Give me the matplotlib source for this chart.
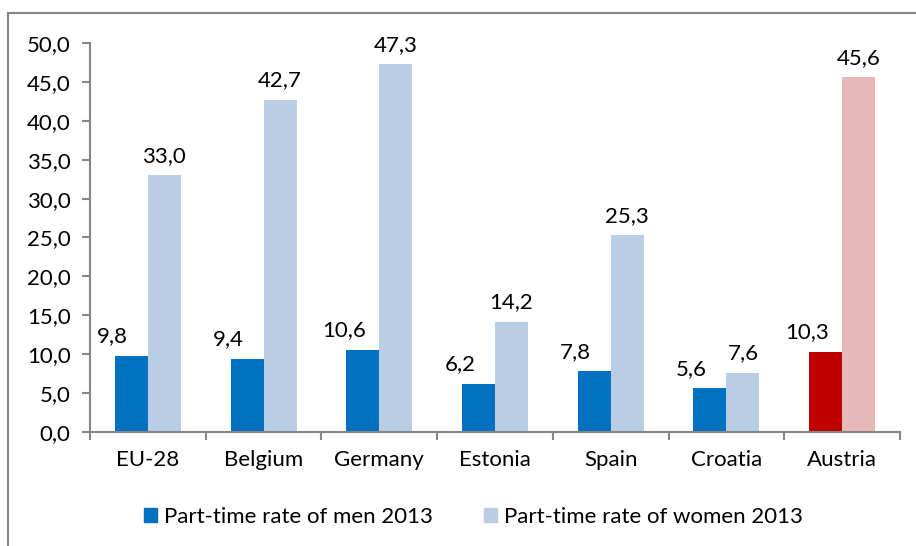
import numpy as np
import matplotlib.pyplot as plt
from matplotlib.lines import Line2D

countries = ['EU-28', 'Belgium', 'Germany', 'Estonia', 'Spain', 'Croatia', 'Austria']
men = [9.8, 9.4, 10.6, 6.2, 7.8, 5.6, 10.3]
women = [33.0, 42.7, 47.3, 14.2, 25.3, 7.6, 45.6]
men_colors = ['#0070C0'] * 6 + ['#C00000']
women_colors = ['#B9CDE5'] * 6 + ['#E6B9B8']
yticks = [0, 5, 10, 15, 20, 25, 30, 35, 40, 45, 50]

plt.rcParams['font.family'] = ['Lato', 'DejaVu Sans']
grey = '#868686'
fs = 16

fig = plt.figure(figsize=(9.16, 5.46), dpi=100)
ax = fig.add_axes([90 / 916, 1 - 432 / 546, 810 / 916, 389 / 546])

x = np.arange(len(countries))
w = 0.285
ax.bar(x - w / 2, men, w, color=men_colors)
ax.bar(x + w / 2, women, w, color=women_colors)

for xi, m, f in zip(x, men, women):
    ax.text(xi - w / 2 - 0.16, m + 1.2, f'{m:.1f}'.replace('.', ','),
            ha='center', va='bottom', fontsize=fs)
    ax.text(xi + w / 2, f + 1.2, f'{f:.1f}'.replace('.', ','),
            ha='center', va='bottom', fontsize=fs)

ax.set_xlim(-0.5, len(countries) - 0.5)
ax.set_ylim(0, 50)
ax.set_yticks(yticks)
ax.set_yticklabels([f'{v:.1f}'.replace('.', ',') for v in yticks], fontsize=fs)
ax.set_xticks(x)
ax.set_xticklabels(countries, fontsize=fs)
ax.tick_params(axis='x', length=0, pad=13)
ax.set_xticks(np.arange(-0.5, len(countries)), minor=True)
ax.tick_params(axis='x', which='minor', length=6, width=1.5, color=grey)
ax.tick_params(axis='y', length=6, width=1.5, color=grey, pad=8)

for s in ['top', 'right']:
    ax.spines[s].set_visible(False)
for s in ['left', 'bottom']:
    ax.spines[s].set_color(grey)
    ax.spines[s].set_linewidth(1.5)

handles = [plt.Rectangle((0, 0), 1, 1, color='#0070C0'),
           plt.Rectangle((0, 0), 1, 1, color='#B9CDE5')]
fig.legend(handles, ['Part-time rate of men 2013', 'Part-time rate of women 2013'],
           loc='center', bbox_to_anchor=(473 / 916, 1 - 517 / 546), ncol=2, frameon=False,
           fontsize=fs, handlelength=0.6, handleheight=0.6, handletextpad=0.3,
           columnspacing=2.3)

# outer chart border (top and left visible)
fig.add_artist(Line2D([8 / 916, 1], [1 - 13 / 546] * 2, color=grey, lw=1.5,
                      transform=fig.transFigure))
fig.add_artist(Line2D([8 / 916] * 2, [0, 1 - 13 / 546], color=grey, lw=1.5,
                      transform=fig.transFigure))

fig.savefig('out.png', dpi=100)
